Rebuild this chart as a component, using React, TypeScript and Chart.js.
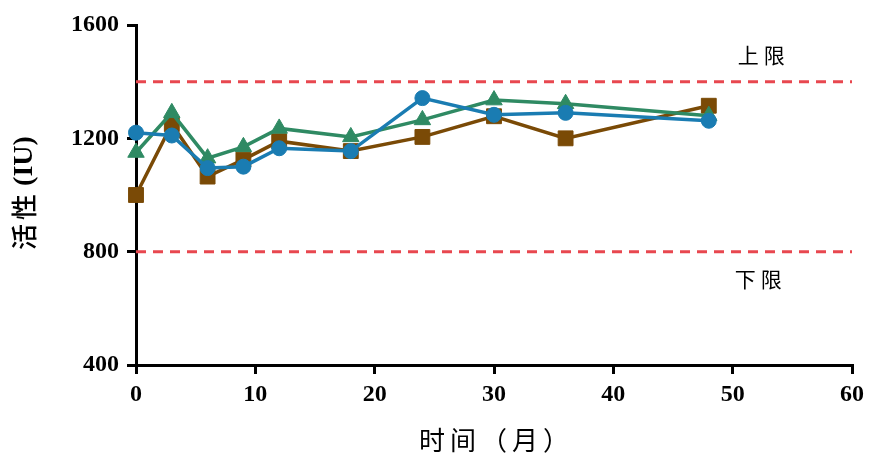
import React, { useEffect, useRef } from "react";
import { Chart, registerables } from "chart.js";

Chart.register(...registerables);

// Sampling times (months)
const months = [0, 3, 6, 9, 12, 18, 24, 30, 36, 48];
// Activity (IU) for three batches
const batchSquare = [1000, 1250, 1065, 1125, 1190, 1155, 1205, 1278, 1200, 1315];
const batchTriangle = [1150, 1290, 1130, 1170, 1235, 1205, 1265, 1335, 1322, 1280];
const batchCircle = [1220, 1210, 1095, 1100, 1165, 1155, 1342, 1283, 1290, 1262];
// Specification limits
const upperLimit = 1400;
const lowerLimit = 800;
const upperLabel = "上限";
const lowerLabel = "下限";
// Axes
const xRange = [0, 60];
const xStep = 10;
const yRange = [400, 1600];
const yStep = 400;
const xTitle = "时间（月）";
const yTitleCjk = "活性";
const yTitleUnit = "(IU)";

const BROWN = "#7a4a06";
const GREEN = "#2f8a63";
const BLUE = "#1a7cb2";
const RED = "#e8474f";

const toPoints = (ys: number[]) => months.map((m, i) => ({ x: m, y: ys[i] }));

function drawSpaced(ctx: CanvasRenderingContext2D, text: string, cx: number, cy: number, gap = 4) {
  const chars = Array.from(text);
  const widths = chars.map((c) => ctx.measureText(c).width);
  const total = widths.reduce((a, b) => a + b, 0) + gap * (chars.length - 1);
  let x = cx - total / 2;
  ctx.textAlign = "left";
  chars.forEach((c, i) => {
    ctx.fillText(c, x, cy);
    x += widths[i] + gap;
  });
  ctx.textAlign = "center";
  return total;
}

const annotations = {
  id: "annotations",
  afterDraw(chart: any) {
    const { ctx, scales } = chart;
    const xs = scales.x;
    const ys = scales.y;
    const area = chart.chartArea;
    ctx.save();
    ctx.fillStyle = "#000";
    ctx.textAlign = "center";
    ctx.textBaseline = "middle";

    // limit labels
    ctx.font = "21px 'Noto Sans CJK SC'";
    const lx = xs.getPixelForValue(52.4);
    drawSpaced(ctx, upperLabel, lx, ys.getPixelForValue(upperLimit) - 27, 5);
    drawSpaced(ctx, lowerLabel, lx - 3, ys.getPixelForValue(lowerLimit) + 27, 5);

    // x title
    ctx.font = "26px 'Noto Sans CJK SC'";
    drawSpaced(ctx, xTitle, (area.left + area.right) / 2, 440, 5);

    // y title: CJK part then bold unit, rotated
    ctx.translate(24, 193);
    ctx.rotate(-Math.PI / 2);
    ctx.font = "500 26px 'Noto Sans CJK SC'";
    const cjkW = Array.from(yTitleCjk).reduce((a, c) => a + ctx.measureText(c).width, 0) + 4;
    ctx.font = "bold 28px 'Liberation Serif'";
    const unitW = ctx.measureText(yTitleUnit).width;
    const gap = 8;
    const total = cjkW + gap + unitW;
    ctx.font = "500 26px 'Noto Sans CJK SC'";
    drawSpaced(ctx, yTitleCjk, -total / 2 + cjkW / 2, 0, 4);
    ctx.font = "bold 28px 'Liberation Serif'";
    ctx.textAlign = "left";
    ctx.fillText(yTitleUnit, -total / 2 + cjkW + gap, 1);
    ctx.restore();
  },
};

export default function App() {
  const ref = useRef<HTMLCanvasElement>(null);

  useEffect(() => {
    if (!ref.current) return;
    const limitLine = (v: number) => ({
      data: [
        { x: xRange[0], y: v },
        { x: xRange[1], y: v },
      ],
      borderColor: RED,
      borderWidth: 3,
      borderDash: [10, 7],
      pointRadius: 0,
      order: 10,
    });
    const series = (ys: number[], color: string, style: string, radius: number, order: number) => ({
      data: toPoints(ys),
      borderColor: color,
      backgroundColor: color,
      borderWidth: 3.5,
      pointStyle: style,
      pointRadius: radius,
      pointBorderWidth: 1,
      pointHoverRadius: radius,
      clip: false as any,
      order,
    });
    const tickFont = { family: "'Liberation Serif'", weight: "bold" as const, size: 24 };

    const chart = new Chart(ref.current, {
      type: "line",
      data: {
        datasets: [
          limitLine(upperLimit),
          limitLine(lowerLimit),
          series(batchSquare, BROWN, "rect", 10.5, 3),
          series(batchTriangle, GREEN, "triangle", 9.5, 2),
          series(batchCircle, BLUE, "circle", 7.5, 1),
        ] as any,
      },
      options: {
        responsive: false,
        animation: false,
        layout: { padding: { top: 25, right: 14, left: 0, bottom: 0 } },
        plugins: { legend: { display: false }, tooltip: { enabled: false } },
        scales: {
          x: {
            type: "linear",
            min: xRange[0],
            max: xRange[1],
            afterFit: (s: any) => {
              s.height = 90;
            },
            ticks: {
              stepSize: xStep,
              color: "#000",
              padding: 6,
              font: tickFont,
              callback: (v: any) => String(v),
            },
            grid: { drawOnChartArea: false, color: "#000", lineWidth: 3, tickLength: 9 },
            border: { color: "#000", width: 3 },
          },
          y: {
            min: yRange[0],
            max: yRange[1],
            afterFit: (s: any) => {
              s.width = 136;
            },
            ticks: {
              stepSize: yStep,
              color: "#000",
              padding: 8,
              font: tickFont,
              callback: (v: any) => String(v),
            },
            grid: { drawOnChartArea: false, color: "#000", lineWidth: 3, tickLength: 9 },
            border: { color: "#000", width: 3 },
          },
        },
      },
      plugins: [annotations],
    });
    return () => chart.destroy();
  }, []);

  return (
    <div style={{ position: "absolute", left: 0, top: 0, width: 870, height: 455, background: "#fff" }}>
      <canvas ref={ref} width={870} height={455} />
    </div>
  );
}
